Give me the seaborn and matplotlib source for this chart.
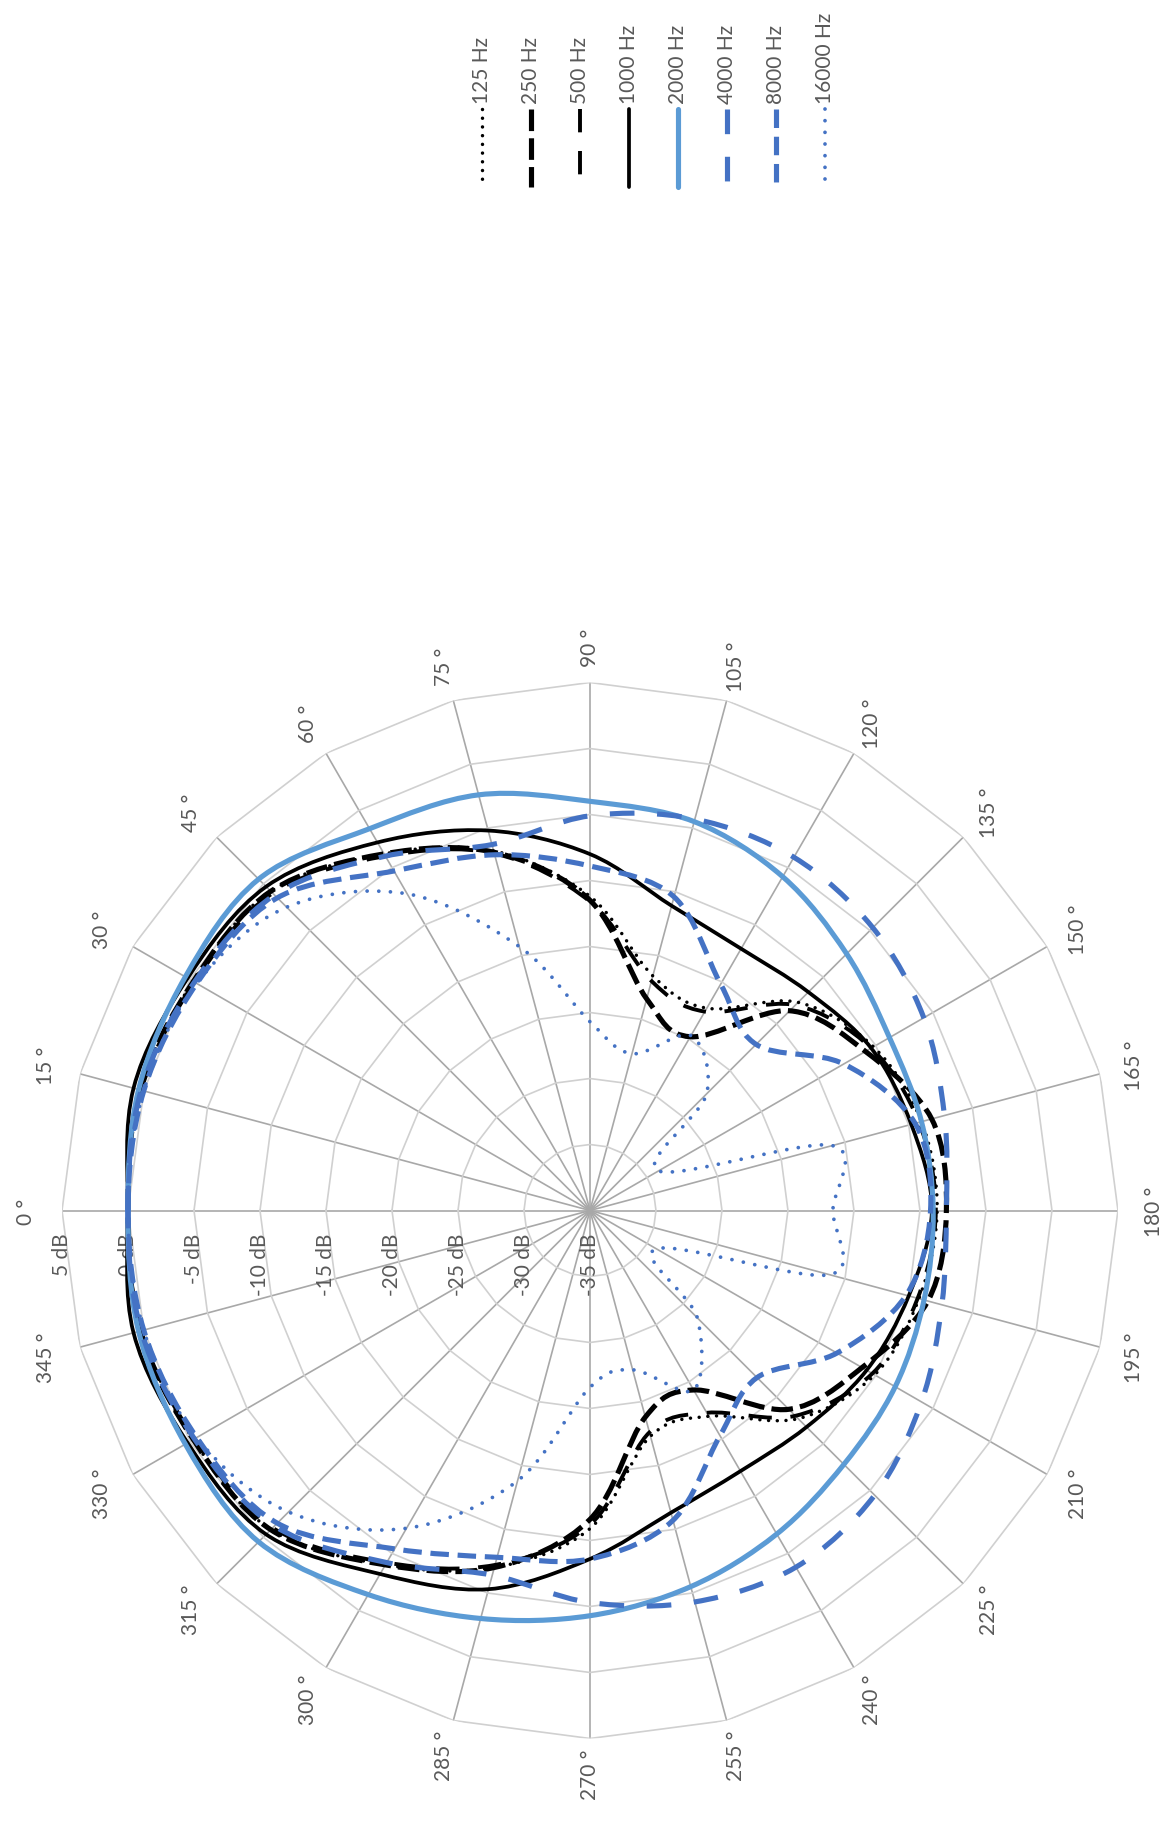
import numpy as np
import matplotlib
matplotlib.use("Agg")
import matplotlib.pyplot as plt
import seaborn as sns
from matplotlib.path import Path
from matplotlib.patches import PathPatch
from matplotlib.lines import Line2D
from matplotlib.transforms import offset_copy

# measurement angles (deg) and levels (dB) per frequency
angles = list(range(0, 360, 15))
hz125 = [0.0, 0.3, -0.3, -0.8, -3.8, -6.8, -11.2, -16.6, -17.3, -12.7, -10.2, -9.0,
         -8.7, -9.2, -10.1, -12.7, -17.0, -17.3, -10.9, -7.0, -4.0, -0.8, -0.3, 0.3]
hz250 = [0.0, 0.3, -0.3, -0.8, -3.8, -6.9, -11.5, -18.4, -19.8, -13.6, -10.9, -8.2,
         -8.0, -8.5, -11.2, -13.7, -19.3, -18.8, -11.6, -7.0, -4.0, -0.8, -0.3, 0.3]
hz500 = [0.0, 0.2, -0.4, -1.0, -4.0, -7.0, -11.6, -17.0, -17.6, -13.0, -10.4, -9.2,
         -8.8, -9.3, -10.3, -13.0, -17.3, -17.6, -11.2, -7.2, -4.2, -1.0, -0.4, 0.2]
hz1000 = [0.0, 0.8, 0.2, -0.3, -2.8, -5.2, -8.0, -11.1, -12.1, -11.6, -10.4, -9.8,
          -9.1, -10.0, -10.8, -11.8, -12.2, -11.3, -8.6, -5.3, -3.2, -0.3, 0.2, 0.8]
hz2000 = [0.0, 0.4, 0.4, 0.5, -1.6, -2.4, -4.0, -4.5, -5.8, -7.5, -8.8, -9.0,
          -9.0, -8.8, -8.3, -7.8, -6.7, -5.5, -4.3, -3.0, -1.4, 0.5, 0.4, 0.4]
hz4000 = [0.0, 0.2, -0.4, -1.2, -4.0, -6.3, -5.1, -4.3, -4.1, -4.7, -5.8, -7.2,
          -8.0, -7.4, -6.0, -4.5, -3.8, -4.3, -5.3, -6.4, -4.2, -1.2, -0.4, 0.2]
hz8000 = [0.0, 0.0, -0.6, -1.5, -5.3, -7.1, -8.9, -10.4, -15.2, -17.2, -12.8, -9.5,
          -9.2, -10.2, -13.4, -17.1, -15.3, -10.7, -8.6, -7.8, -5.4, -1.5, -0.6, 0.0]
hz16000 = [0.0, 0.0, -0.6, -2.5, -7.3, -14.3, -20.7, -22.7, -19.7, -22.5, -29.0, -16.0,
           -16.6, -16.2, -29.2, -23.5, -19.3, -22.5, -21.6, -13.8, -7.2, -2.7, -0.6, 0.0]

labels = ["125 Hz", "250 Hz", "500 Hz", "1000 Hz", "2000 Hz", "4000 Hz", "8000 Hz", "16000 Hz"]
series = [hz125, hz250, hz500, hz1000, hz2000, hz4000, hz8000, hz16000]
ring_vals = [5, 0, -5, -10, -15, -20, -25, -30, -35]
R_MIN, R_MAX = -35, 5

BLACK = "#000000"
LBLUE = "#5B9BD5"
BLUE = "#4472C4"
styles = [
    dict(color=BLACK, lw=2.5, ls=(0, (0.01, 2.5)), cap="round"),
    dict(color=BLACK, lw=3.7, ls=(0, (4.2, 1.4)), cap="butt"),
    dict(color=BLACK, lw=2.8, ls=(0, (6.0, 4.8)), cap="butt"),
    dict(color=BLACK, lw=2.7, ls="-", cap="round"),
    dict(color=LBLUE, lw=3.7, ls="-", cap="round"),
    dict(color=BLUE, lw=3.7, ls=(0, (4.8, 4.4)), cap="butt"),
    dict(color=BLUE, lw=3.7, ls=(0, (3.6, 1.7)), cap="butt"),
    dict(color=BLUE, lw=2.7, ls=(0, (0.01, 3.1)), cap="round"),
]
TXT = "#595959"
FS = 15


def smooth_path(values):
    # closed smoothed curve (cubic bezier through the measured points)
    t = np.deg2rad(angles)
    rho = np.asarray(values, dtype=float) - R_MIN
    pts = np.column_stack([rho * np.cos(t), rho * np.sin(t)])
    n = len(pts)
    verts = [pts[0]]
    codes = [Path.MOVETO]
    for i in range(n):
        p0, p1, p2, p3 = pts[i - 1], pts[i], pts[(i + 1) % n], pts[(i + 2) % n]
        verts += [p1 + (p2 - p0) / 6, p2 - (p3 - p1) / 6, p2]
        codes += [Path.CURVE4] * 3
    verts = np.array(verts)
    th = np.arctan2(verts[:, 1], verts[:, 0])
    rr = np.hypot(verts[:, 0], verts[:, 1]) + R_MIN
    return Path(np.column_stack([th, rr]), codes)


sns.set_theme(style="white")
plt.rcParams["font.family"] = ["Lato", "DejaVu Sans"]

fig = plt.figure(figsize=(11.72, 18.24), dpi=100)
fig.patch.set_facecolor("white")
ax = fig.add_axes([0.0529, 0.0463, 0.901, 0.579], projection="polar")
ax.set_theta_zero_location("W")
ax.set_theta_direction(-1)
ax.grid(False)
ax.spines["polar"].set_visible(False)
ax.set_xticks([])
ax.set_yticks([])
ax.set_ylim(R_MIN, R_MAX)

# polygon grid
th_spokes = np.deg2rad(angles)
for t in th_spokes:
    ax.plot([t, t], [R_MIN, R_MAX], color="#A8A8A8", lw=1.2, zorder=1)
ring_th = np.append(th_spokes, th_spokes[0])
for v in ring_vals[:-1]:
    ax.plot(ring_th, [v] * len(ring_th), color="#D0D0D0", lw=1.2, zorder=1)

# angle labels
for a in angles:
    ax.text(np.deg2rad(a), 7.7, f"{a} °", rotation=90, ha="center", va="center",
            fontsize=FS, color=TXT, zorder=2)

# level labels along the 0 degree spoke
off = offset_copy(ax.transData, fig=fig, y=-16, units="points")
for v in ring_vals:
    ax.text(0, v, f"{v} dB", transform=off, rotation=90, ha="center", va="top",
            fontsize=FS, color=TXT, zorder=2)

for k, (vals, st) in enumerate(zip(series, styles)):
    patch = PathPatch(smooth_path(vals), transform=ax.transData, fill=False,
                      edgecolor=st["color"], lw=st["lw"], linestyle=st["ls"],
                      capstyle=st["cap"], joinstyle="round", zorder=3 + k)
    ax.add_patch(patch)

ax.set_xlim(0, 2 * np.pi)
ax.set_ylim(R_MIN, R_MAX)

# legend (vertical, rotated like the chart)
W, H = 1172.0, 1824.0
for k, (lab, st) in enumerate(zip(labels, styles)):
    x = (482 + 49 * k) / W
    ln = Line2D([x, x], [1 - 110 / H, 1 - 188 / H], transform=fig.transFigure,
                color=st["color"], lw=st["lw"], linestyle=st["ls"],
                dash_capstyle=st["cap"], solid_capstyle="round")
    fig.add_artist(ln)
    fig.text(x, 1 - 104 / H, lab, rotation=90, ha="center", va="bottom",
             fontsize=FS, color=TXT)

fig.savefig("out.png", dpi=100, facecolor="white")
